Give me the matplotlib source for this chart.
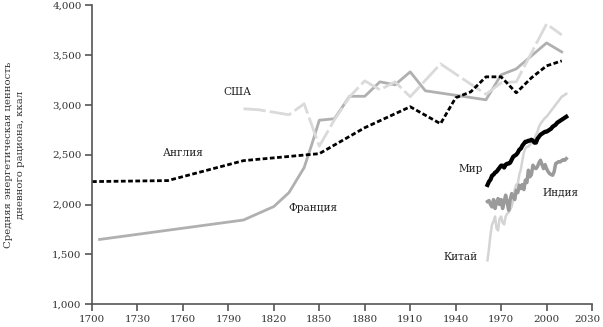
import matplotlib.pyplot as plt
import matplotlib.transforms as mtransforms
from matplotlib.ticker import FuncFormatter

plt.rcParams['font.family'] = ['DejaVu Serif']

# long-run series (year, kcal)
england_years = [1700, 1750, 1800, 1850, 1880, 1910, 1930, 1940, 1950, 1960, 1970, 1980, 1990, 2000, 2010]
england_kcal = [2230, 2240, 2440, 2510, 2770, 2980, 2810, 3070, 3130, 3280, 3280, 3120, 3270, 3390, 3440]

france_years = [1705, 1800, 1820, 1830, 1840, 1845, 1850, 1860, 1870, 1880, 1890, 1900, 1910, 1920,
                1960, 1970, 1980, 2000, 2010]
france_kcal = [1650, 1845, 1980, 2120, 2370, 2600, 2845, 2860, 3085, 3085, 3230, 3200, 3330, 3140,
               3050, 3300, 3360, 3620, 3530]

usa_years = [1800, 1810, 1830, 1840, 1850, 1860, 1870, 1880, 1890, 1900, 1910, 1930, 1960, 1970,
             1980, 2000, 2010]
usa_kcal = [2960, 2950, 2900, 3010, 2585, 2850, 3080, 3240, 3150, 3230, 3080, 3410, 3105, 3220,
            3230, 3810, 3700]

# FAO annual series 1961-2013
fao_years = list(range(1961, 2014))
world_kcal = [2196, 2230, 2250, 2290, 2300, 2320, 2330, 2350, 2370, 2390,
              2390, 2370, 2400, 2410, 2410, 2420, 2450, 2480, 2490, 2500,
              2520, 2550, 2560, 2590, 2610, 2630, 2630, 2640, 2640, 2650,
              2640, 2620, 2620, 2660, 2680, 2700, 2710, 2720, 2730, 2730,
              2740, 2750, 2760, 2780, 2790, 2800, 2820, 2830, 2840, 2850,
              2860, 2870, 2880]
china_kcal = [1440, 1560, 1700, 1800, 1830, 1880, 1760, 1740, 1860, 1880,
              1820, 1800, 1880, 1910, 1920, 1950, 1980, 2050, 2150, 2200,
              2210, 2300, 2350, 2440, 2520, 2560, 2580, 2580, 2600, 2620,
              2630, 2660, 2700, 2730, 2780, 2810, 2830, 2850, 2870, 2880,
              2900, 2920, 2940, 2960, 2980, 3000, 3020, 3040, 3060, 3080,
              3090, 3100, 3110]
india_kcal = [2030, 2040, 2000, 1976, 2050, 1960, 2020, 2060, 2000, 2050,
              1960, 2030, 2094, 2020, 1943, 2050, 2110, 2080, 2050, 2143,
              2120, 2194, 2160, 2200, 2150, 2244, 2220, 2344, 2278, 2300,
              2394, 2370, 2360, 2380, 2420, 2444, 2400, 2360, 2400, 2360,
              2330, 2310, 2300, 2294, 2330, 2410, 2420, 2430, 2427, 2440,
              2450, 2444, 2460]

fig = plt.figure(figsize=(6.03, 3.27), dpi=100)
ax = fig.add_axes([0.1526, 0.0694, 0.8292, 0.9153])

ax.plot(france_years, france_kcal, color='#b0b0b0', lw=2)
ax.plot(usa_years, usa_kcal, color='#dadada', lw=2, dashes=(8, 1.5))
ax.plot(england_years, england_kcal, color='black', lw=2, dashes=(1.7, 0.9))
ax.plot(fao_years, china_kcal, color='#d4d4d4', lw=1.8)
ax.plot(fao_years, india_kcal, color='#9a9a9a', lw=2.5)
ax.plot(fao_years, world_kcal, color='black', lw=3)

labels = [('США', 1796, 3125), ('Англия', 1760, 2515), ('Франция', 1846, 1965),
          ('Мир', 1950, 2355), ('Индия', 2009, 2125), ('Китай', 1943, 1475)]
for txt, x, y in labels:
    ax.text(x, y, txt, ha='center', va='center', fontsize=7.6, color='#222222')

ax.set_xlim(1700, 2030)
ax.set_ylim(1000, 4000)
ax.set_xticks(range(1700, 2031, 30))
ax.set_yticks(range(1000, 4001, 500))
ax.yaxis.set_major_formatter(FuncFormatter(lambda v, p: f'{int(v):,}'))
for s in ['top', 'right']:
    ax.spines[s].set_visible(False)
for s in ['left', 'bottom']:
    ax.spines[s].set_color('#555555')
    ax.spines[s].set_linewidth(1.2)
ax.tick_params(colors='#555555', labelcolor='#333333', labelsize=7.4, length=5, width=1.2, pad=2.5)
ax.set_ylabel('Средняя энергетическая ценность\nдневного рациона, ккал', fontsize=7.3,
              color='#333333', linespacing=1.4)
ax.yaxis.set_label_coords(-0.134, 0.5)

# keep the last x label inside the canvas
last = ax.get_xticklabels()[-1]
last.set_transform(last.get_transform() + mtransforms.ScaledTranslation(-3 / 72, 0, fig.dpi_scale_trans))

fig.savefig('out.png', dpi=100)
